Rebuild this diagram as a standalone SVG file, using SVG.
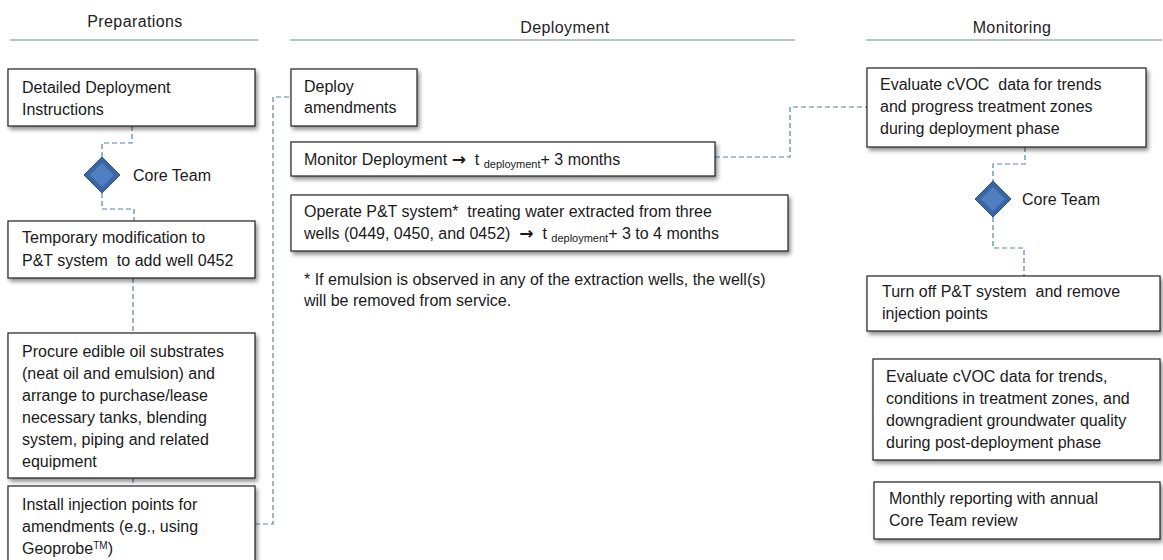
<svg xmlns="http://www.w3.org/2000/svg" width="1163" height="560" viewBox="0 0 1163 560">
<defs>
<filter id="sh" x="-10%" y="-10%" width="130%" height="140%">
<feGaussianBlur in="SourceAlpha" stdDeviation="2"/>
<feOffset dx="2" dy="3" result="b"/>
<feComponentTransfer><feFuncA type="linear" slope="0.45"/></feComponentTransfer>
<feMerge><feMergeNode/><feMergeNode in="SourceGraphic"/></feMerge>
</filter>
</defs>
<style>
.t{font-family:"Liberation Sans",Arial,sans-serif;font-size:16px;fill:#1a1a1a}
.h{font-family:"Liberation Sans",Arial,sans-serif;font-size:16px;letter-spacing:0.4px;fill:#222;text-anchor:middle}
.box{fill:#fff;stroke:#222;stroke-width:1.2;filter:url(#sh)}
.hl{stroke:#6c8aa8;stroke-width:1.2}
.c{fill:none;stroke:#5a80b0;stroke-width:1.2;stroke-dasharray:5,3}
.sub{font-size:11px}
.ar{font-family:"DejaVu Sans",sans-serif;font-weight:bold;font-size:17px}
.d1{fill:#3a66a3;stroke:#2e5385;stroke-width:1}
.d2{fill:#4f7fc0}
</style>
<g id="headers">
<text class="h" x="135" y="27">Preparations</text>
<line class="hl" x1="10" y1="40" x2="258" y2="40"/>
<text class="h" x="565" y="33">Deployment</text>
<line class="hl" x1="290" y1="40" x2="795" y2="40"/>
<text class="h" x="1012" y="33">Monitoring</text>
<line class="hl" x1="866" y1="40" x2="1162" y2="40"/>
</g>
<g id="connectors">
<path class="c" d="M132,126 V143 H102 V157"/>
<path class="c" d="M102,193 V209 H134 V221"/>
<path class="c" d="M133,278 V333"/>
<path class="c" d="M133,478 V486"/>
<path class="c" d="M255,524 H273 V97 H291"/>
<path class="c" d="M715,157 H790 V107 H867"/>
<path class="c" d="M1025,147 V164 H993 V181"/>
<path class="c" d="M993,217 V248 H1024 V276"/>
</g>
<g id="n1">
<rect class="box" x="8" y="69" width="247" height="57"/>
<text class="t" x="22" y="93">Detailed Deployment</text>
<text class="t" x="22" y="115">Instructions</text>
</g>
<g id="d1">
<path class="d1" d="M102,157 L120,175 L102,193 L84,175 Z"/>
<path class="d2" d="M102,163 L114,175 L102,187 L90,175 Z"/>
<text class="t" x="133" y="181">Core Team</text>
</g>
<g id="n2">
<rect class="box" x="8" y="221" width="247" height="57"/>
<text class="t" x="22" y="243">Temporary modification to</text>
<text class="t" x="22" y="266" xml:space="preserve">P&amp;T system  to add well 0452</text>
</g>
<g id="n3">
<rect class="box" x="8" y="333" width="247" height="145"/>
<text class="t" x="22" y="357">Procure edible oil substrates</text>
<text class="t" x="22" y="379">(neat oil and emulsion) and</text>
<text class="t" x="22" y="401">arrange to purchase/lease</text>
<text class="t" x="22" y="423">necessary tanks, blending</text>
<text class="t" x="22" y="445">system, piping and related</text>
<text class="t" x="22" y="467">equipment</text>
</g>
<g id="n4">
<rect class="box" x="8" y="486" width="247" height="82"/>
<text class="t" x="22" y="510">Install injection points for</text>
<text class="t" x="22" y="532">amendments (e.g., using</text>
<text class="t" x="22" y="554">Geoprobe<tspan font-size="10" dy="-5">TM</tspan><tspan dy="5">)</tspan></text>
</g>
<g id="n5">
<rect class="box" x="291" y="69" width="126" height="57"/>
<text class="t" x="304" y="92">Deploy</text>
<text class="t" x="304" y="113">amendments</text>
</g>
<g id="n6">
<rect class="box" x="291" y="142" width="424" height="34"/>
<text class="t" x="304" y="165" xml:space="preserve">Monitor Deployment <tspan class="ar">→</tspan>  t <tspan class="sub" dy="3">deployment</tspan><tspan dy="-3">+ 3 months</tspan></text>
</g>
<g id="n7">
<rect class="box" x="291" y="195" width="497" height="56"/>
<text class="t" x="304" y="217" xml:space="preserve">Operate P&amp;T system*  treating water extracted from three</text>
<text class="t" x="304" y="239" xml:space="preserve">wells (0449, 0450, and 0452)  <tspan class="ar">→</tspan>  t <tspan class="sub" dy="3">deployment</tspan><tspan dy="-3">+ 3 to 4 months</tspan></text>
</g>
<g id="note">
<text class="t" x="304" y="285">* If emulsion is observed in any of the extraction wells, the well(s)</text>
<text class="t" x="304" y="306">will be removed from service.</text>
</g>
<g id="m1">
<rect class="box" x="867" y="68" width="279" height="79"/>
<text class="t" x="880" y="90" xml:space="preserve">Evaluate cVOC  data for trends</text>
<text class="t" x="880" y="112">and progress treatment zones</text>
<text class="t" x="880" y="134">during deployment phase</text>
</g>
<g id="d2">
<path class="d1" d="M993,181 L1011,199 L993,217 L975,199 Z"/>
<path class="d2" d="M993,187 L1005,199 L993,211 L981,199 Z"/>
<text class="t" x="1022" y="205">Core Team</text>
</g>
<g id="m2">
<rect class="box" x="867" y="276" width="293" height="55"/>
<text class="t" x="882" y="297" xml:space="preserve">Turn off P&amp;T system  and remove</text>
<text class="t" x="882" y="319">injection points</text>
</g>
<g id="m3">
<rect class="box" x="873" y="359" width="287" height="101"/>
<text class="t" x="886" y="382">Evaluate cVOC data for trends,</text>
<text class="t" x="886" y="404">conditions in treatment zones, and</text>
<text class="t" x="886" y="426">downgradient groundwater quality</text>
<text class="t" x="886" y="448">during post-deployment phase</text>
</g>
<g id="m4">
<rect class="box" x="874" y="482" width="286" height="57"/>
<text class="t" x="889" y="504">Monthly reporting with annual</text>
<text class="t" x="889" y="526">Core Team review</text>
</g>
</svg>
